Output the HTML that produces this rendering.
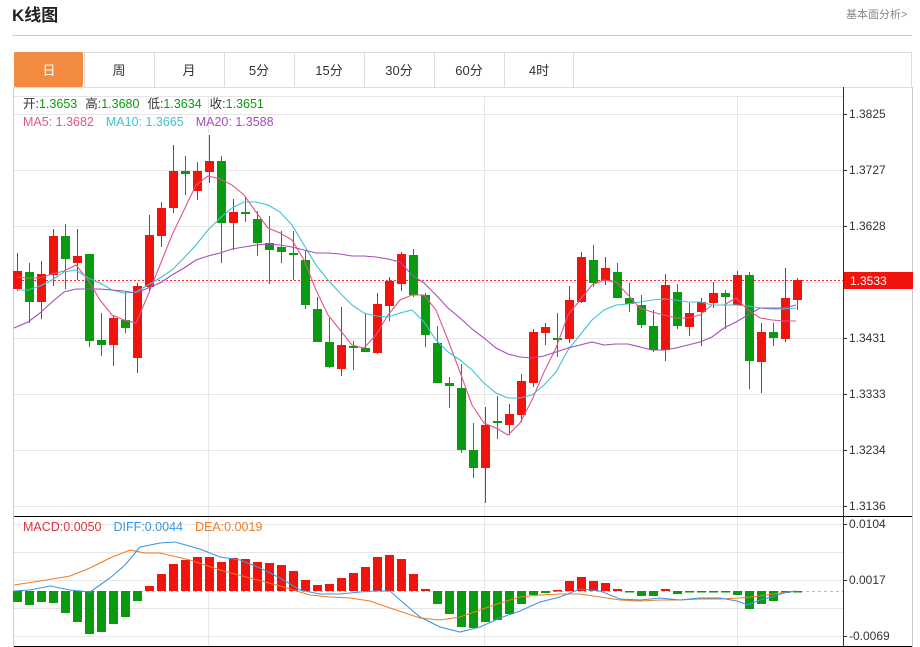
<!DOCTYPE html>
<html><head><meta charset="utf-8"><style>
html,body{margin:0;padding:0;background:#fff;width:920px;height:647px;overflow:hidden;font-family:"Liberation Sans","Noto Sans CJK SC",sans-serif;}
</style></head><body>
<svg id="s" width="920" height="647" xmlns="http://www.w3.org/2000/svg" style="position:absolute;left:0;top:0;font-family:'Liberation Sans','Noto Sans CJK SC',sans-serif">
<text x="12" y="21" font-size="17" font-weight="bold" fill="#222">K线图</text>
<text x="846" y="18" font-size="11" fill="#888">基本面分析&gt;</text>
<line x1="12" y1="35.5" x2="912" y2="35.5" stroke="#ccc"/>
<rect x="14.5" y="52.5" width="897" height="35" fill="#fff" stroke="#ddd"/>
<rect x="14" y="52" width="69" height="35" fill="#f28a3f" rx="2"/>
<g id="tabs" font-size="13" fill="#333" text-anchor="middle"></g>
<line x1="13.5" y1="87" x2="13.5" y2="647" stroke="#ccc"/>
<line x1="912.5" y1="87" x2="912.5" y2="647" stroke="#ccc"/>
<g id="grid" stroke="#e6e6e6" stroke-width="1"></g>
<line x1="14" y1="516.5" x2="912" y2="516.5" stroke="#000"/>
<line x1="14" y1="646.5" x2="912" y2="646.5" stroke="#000"/>
<line x1="843.5" y1="87" x2="843.5" y2="647" stroke="#333"/>
<g id="axis" font-size="12" fill="#333"></g>
<line x1="14" y1="280.5" x2="843" y2="280.5" stroke="#e33" stroke-dasharray="2,2"/>
<line x1="14" y1="591.5" x2="843" y2="591.5" stroke="#9cd" stroke-dasharray="3,3"/>
<g id="c"></g>
<g id="m"></g>
<rect x="844" y="272" width="69" height="17" fill="#f0140c"/>
<text x="850" y="285" font-size="12" fill="#fff">1.3533</text>
<text x="23" y="108" font-size="12.5"><tspan fill="#333">开:</tspan><tspan fill="#0a9a10">1.3653</tspan><tspan fill="#333" dx="8">高:</tspan><tspan fill="#0a9a10">1.3680</tspan><tspan fill="#333" dx="8">低:</tspan><tspan fill="#0a9a10">1.3634</tspan><tspan fill="#333" dx="8">收:</tspan><tspan fill="#0a9a10">1.3651</tspan></text>
<text x="23" y="126" font-size="12.5"><tspan fill="#e0558a">MA5: 1.3682</tspan><tspan fill="#3cc4d4" dx="12">MA10: 1.3665</tspan><tspan fill="#a44cbc" dx="12">MA20: 1.3588</tspan></text>
<text x="23" y="531" font-size="12.5"><tspan fill="#e0343c">MACD:0.0050</tspan><tspan fill="#3b96e0" dx="12">DIFF:0.0044</tspan><tspan fill="#f07c28" dx="12">DEA:0.0019</tspan></text>
</svg>
<script>
var NS="http://www.w3.org/2000/svg";
function el(p,t,a,txt){var e=document.createElementNS(NS,t);for(var k in a)e.setAttribute(k,a[k]);if(txt)e.textContent=txt;document.getElementById(p).appendChild(e);return e;}
var tabs=["日","周","月","5分","15分","30分","60分","4时"];
for(var i=0;i<8;i++){var x=14+i*70;el("tabs","text",{x:x+35,y:75,fill:i==0?"#fff":"#333"},tabs[i]);if(i>0)el("tabs","line",{x1:x+0.5,y1:52,x2:x+0.5,y2:87,stroke:"#ddd"});}
el("tabs","line",{x1:573.5,y1:52,x2:573.5,y2:87,stroke:"#ddd"});
[114,170,226,282,338,394,450,506].forEach(function(y){el("grid","line",{x1:14,y1:y+.5,x2:843,y2:y+.5});});
[524,552,580,608,636].forEach(function(y){el("grid","line",{x1:14,y1:y+.5,x2:843,y2:y+.5});});
[208,484,737].forEach(function(x){el("grid","line",{x1:x+.5,y1:96,x2:x+.5,y2:646});});
el("grid","line",{x1:14,y1:96.5,x2:843,y2:96.5});
var al=[["1.3825",114],["1.3727",170],["1.3628",226],["1.3431",338],["1.3333",394],["1.3234",450],["1.3136",506],["0.0104",524],["0.0017",580],["-0.0069",636]];
al.forEach(function(a){el("axis","line",{x1:843,y1:a[1]+.5,x2:847,y2:a[1]+.5,stroke:"#333"});el("axis","text",{x:849,y:a[1]+4},a[0]);});
var C=[["r",271,289,253,291],["g",272,302,263,323],["r",274,302,261,319],["r",236,275,229,286],["g",236,259,224,289],["r",256,263,229,280],["g",254,341,254,347],["g",340,345,313,356],["r",318,345,316,366],["g",320,328,292,333],["r",286,358,283,373],["r",235,287,215,292],["r",208,236,202,247],["r",171,208,145,213],["g",171,174,156,195],["r",171,191,162,200],["r",161,172,135,183],["g",161,223,156,263],["r",212,223,199,250],["g",212,214,197,222],["g",219,243,211,256],["g",243,250,216,284],["g",247,252,231,263],["g",253,255,231,280],["g",260,305,251,309],["g",309,342,297,342],["g",342,367,318,368],["r",345,369,307,376],["g",346,348,341,370],["g",348,352,313,352],["r",304,353,293,354],["r",281,306,277,321],["r",254,284,252,291],["g",255,295,249,297],["g",295,335,293,347],["g",343,383,326,383],["g",383,386,377,408],["g",388,450,364,453],["g",450,468,423,478],["r",425,468,407,503],["g",421,423,396,439],["r",414,425,404,435],["r",381,415,374,422],["r",332,383,329,387],["r",327,333,323,345],["g",338,339,313,357],["r",300,339,286,343],["r",257,302,252,303],["g",260,283,245,287],["r",268,281,257,285],["g",272,298,263,298],["g",298,304,283,312],["g",305,325,295,328],["g",326,350,310,352],["r",285,350,274,361],["g",292,326,284,329],["r",313,327,303,336],["r",302,312,298,346],["r",293,303,282,308],["g",293,297,290,329],["r",275,305,271,305],["g",275,361,272,389],["r",332,362,323,393],["g",332,338,323,346],["r",298,339,268,342],["r",280,300,278,310]];
var RED="#f0140c",GRN="#0a9a10";
C.forEach(function(c,i){var x=17+i*12,col=c[0]=="r"?RED:GRN;el("c","line",{x1:x+.5,y1:c[3],x2:x+.5,y2:c[4],stroke:col});el("c","rect",{x:x-4,y:c[1],width:9,height:Math.max(2,c[2]-c[1]),fill:col});});
var M=[602,605,602,603,613,622,634,632,624,617,601,586,574,564,560,557,557,562,558,559,562,563,565,571,580,585,584,578,573,567,557,555,559,574,589,604,614,627,628,622,620,614,604,595,593,590,581,577,581,583,589,592,596,596,589,594,592,592,592,592,595,609,604,601,593,592];
M.forEach(function(y,i){var x=17+i*12;var top=Math.min(y,591),h=Math.max(1.5,Math.abs(y-591));var col=y<591?RED:GRN;if(i==34||i==45||i==54)col=RED;el("m","rect",{x:x-4,y:y<591?top:591,width:9,height:h,fill:col});});
function pl(pts,col,g){el(g,"polyline",{points:pts.map(function(p){return p.join(",")}).join(" "),fill:"none",stroke:col,"stroke-width":1.1});}
pl([[17,277],[28,278],[40,278],[52,274],[64,271],[76,265],[88,280],[100,300],[112,315],[124,320],[136,323],[148,295],[160,265],[172,235],[184,210],[196,185],[208,176],[220,179],[232,185],[244,195],[256,212],[268,228],[280,233],[292,240],[304,260],[316,290],[328,315],[340,330],[352,345],[364,348],[376,335],[388,315],[400,300],[412,295],[424,295],[436,310],[448,340],[460,372],[472,405],[484,423],[496,428],[508,435],[520,423],[532,400],[544,372],[556,348],[568,315],[580,300],[592,285],[604,280],[616,282],[628,295],[640,308],[652,312],[664,315],[676,318],[688,318],[700,315],[712,305],[724,305],[736,298],[748,310],[760,318],[772,320],[784,321],[796,321]],"#e0558a","c");
pl([[17,290],[28,290],[40,286],[52,280],[64,272],[76,270],[88,278],[100,283],[112,290],[124,293],[136,292],[148,285],[160,278],[172,270],[184,258],[196,245],[208,230],[220,218],[232,208],[244,202],[256,202],[268,205],[280,212],[292,225],[304,245],[316,265],[328,280],[340,293],[352,305],[364,313],[376,316],[388,317],[400,313],[412,310],[424,322],[436,340],[448,352],[460,360],[472,370],[484,383],[496,393],[508,398],[520,398],[532,395],[544,385],[556,372],[568,350],[580,335],[592,320],[604,310],[616,305],[628,304],[640,302],[652,300],[664,299],[676,300],[688,302],[700,302],[712,305],[724,305],[736,305],[748,306],[760,308],[772,309],[784,309],[796,308]],"#3cc4d4","c");
pl([[14,328],[28,322],[40,313],[52,302],[64,292],[76,289],[88,289],[100,289],[112,290],[124,291],[136,293],[148,288],[160,283],[172,275],[184,268],[196,260],[208,256],[220,253],[232,249],[244,247],[256,245],[268,244],[280,245],[292,247],[304,250],[316,253],[328,253],[340,254],[352,256],[364,256],[376,257],[388,259],[400,262],[412,275],[424,283],[436,295],[448,308],[460,318],[472,329],[484,338],[496,348],[508,354],[520,357],[532,358],[544,356],[556,352],[568,348],[580,345],[592,342],[604,345],[616,344],[628,344],[640,347],[652,350],[664,350],[676,348],[688,345],[700,342],[712,337],[724,328],[736,322],[748,315],[760,308],[772,308],[784,308],[796,305]],"#a44cbc","c");
pl([[14,585],[40,581],[70,576],[90,568],[110,558],[130,550],[145,553],[160,553],[190,560],[220,570],[250,578],[280,586],[310,595],[330,597],[350,598],[370,601],[390,608],[420,618],[440,620],[460,617],[480,610],[500,603],[520,597],[540,595],[560,594],[580,594],[600,597],[620,600],[640,601],[660,600],[680,600],[700,599],[720,599],[740,598],[760,596],[780,593],[796,591]],"#f07c28","m");
pl([[14,591],[30,590],[50,586],[70,590],[90,592],[110,578],[125,565],[140,547],[160,543],[175,542],[200,549],[220,557],[240,560],[260,568],[280,578],[300,590],[320,594],[340,594],[360,592],[375,591],[390,591],[400,600],[420,617],[440,627],[460,632],[480,627],[500,618],[520,611],[540,602],[560,597],[580,589],[600,591],[620,599],[640,600],[660,598],[680,600],[700,598],[720,598],[737,601],[748,605],[760,600],[772,597],[784,593],[796,591]],"#3b96e0","m");
</script>
</body></html>
